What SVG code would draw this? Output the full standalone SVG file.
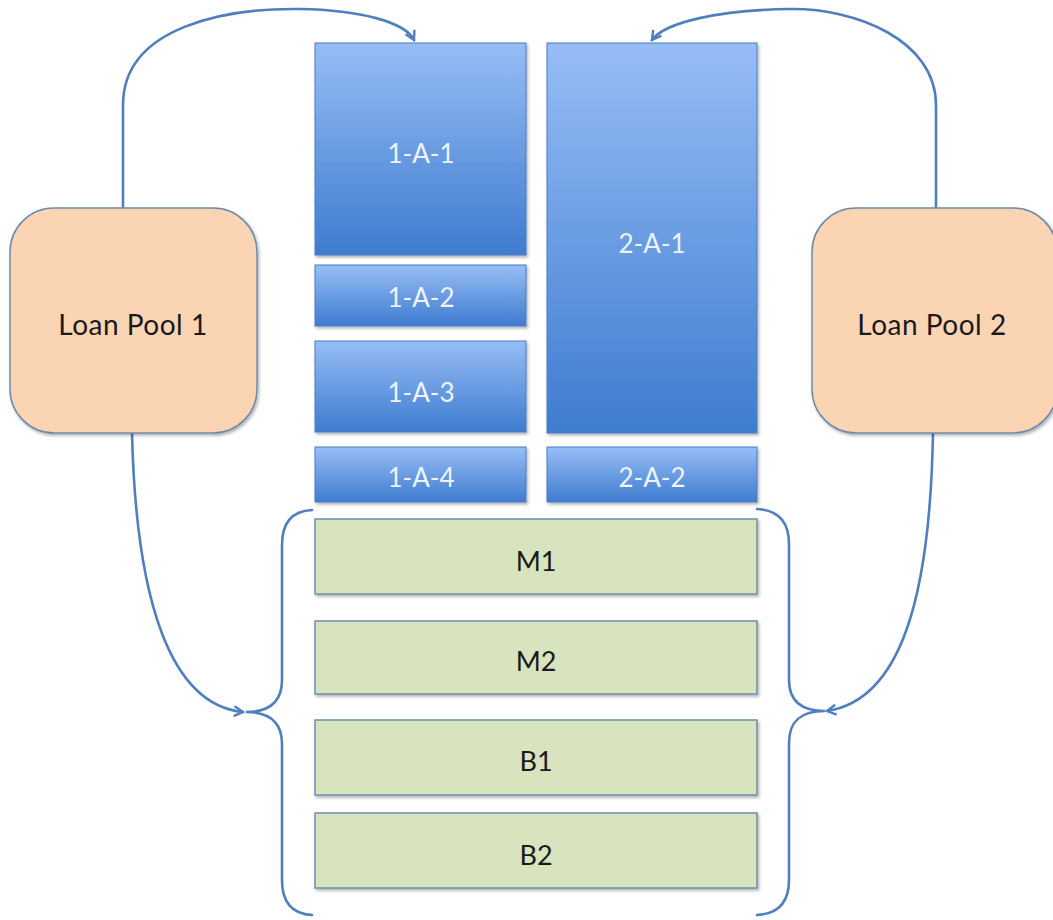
<svg xmlns="http://www.w3.org/2000/svg" width="1053" height="920" viewBox="0 0 1053 920">
  <defs>
    <linearGradient id="blueFill" x1="0" y1="0" x2="0" y2="1">
      <stop offset="0" stop-color="#97bdf6"/>
      <stop offset="1" stop-color="#3e7ccf"/>
    </linearGradient>
    <filter id="shadow" x="-10%" y="-10%" width="130%" height="130%">
      <feDropShadow dx="1.5" dy="2" stdDeviation="1.8" flood-color="#000" flood-opacity="0.3"/>
    </filter>
    <marker id="openArrow" viewBox="0 0 12 12" refX="10" refY="6" markerWidth="12" markerHeight="12" markerUnits="userSpaceOnUse" orient="auto">
      <path d="M1,1 L10,6 L1,11" fill="none" stroke="#4f7fbd" stroke-width="2.4" stroke-linejoin="miter"/>
    </marker>
    <style>
      .tranche { fill: url(#blueFill); stroke: #4a7cc0; stroke-width: 1; filter: url(#shadow); }
      .sub { fill: #d7e4bd; stroke: #6f8fae; stroke-width: 1.5; filter: url(#shadow); }
      .pool { fill: #fbd4b4; stroke: #6e8aaa; stroke-width: 1.5; filter: url(#shadow); }
      .wlabel { font-family: Lato, "Open Sans", sans-serif; font-size: 26px; fill: #eef4fc; text-anchor: middle; }
      .dlabel { font-family: Lato, "Open Sans", sans-serif; font-size: 27px; fill: #1a1a1a; text-anchor: middle; }
      .plabel { font-family: Lato, "Open Sans", sans-serif; font-size: 28px; fill: #1a1a1a; text-anchor: middle; letter-spacing: 0.5px; }
      .link { fill: none; stroke: #4f7fbd; stroke-width: 2.6; stroke-linecap: round; }
    </style>
  </defs>

  <rect width="1053" height="920" fill="#ffffff"/>

  <!-- flows from the loan pools and the braces around the subordinate tranches -->
  <g id="connectors">
    <path class="link" d="M123,208 L123,105 C123,25 230,8 300,9 C360,10 405,22 414,40" marker-end="url(#openArrow)"/>
    <path class="link" d="M936,208 L936,105 C936,40 855,8 790,9 C720,10 665,22 652,40" marker-end="url(#openArrow)"/>
    <path class="link" d="M132,433 C136,600 170,705 243,712" marker-end="url(#openArrow)"/>
    <path class="link" d="M933,433 C930,600 900,700 827,711" marker-end="url(#openArrow)"/>
    <!-- left brace -->
    <path class="link" d="M312,510 C292,511 282,522 282,545 L282,680 C282,703 268,712 246,712 C268,712 282,721 282,744 L282,880 C282,903 292,914 312,915"/>
    <!-- right brace -->
    <path class="link" d="M757,509 C777,510 789,521 789,544 L789,680 C789,702 802,711 825,711 C802,711 789,720 789,743 L789,880 C789,903 777,914 757,915"/>
  </g>

  <g id="loan-pool-1">
    <rect class="pool" x="10" y="208" width="247" height="225" rx="44" ry="44"/>
    <text class="plabel" x="133" y="335">Loan Pool 1</text>
  </g>
  <g id="loan-pool-2">
    <rect class="pool" x="812" y="208" width="245" height="225" rx="44" ry="44"/>
    <text class="plabel" x="932" y="335">Loan Pool 2</text>
  </g>

  <g id="tranche-1-A-1">
    <rect class="tranche" x="315" y="43" width="211" height="212"/>
    <text class="wlabel" x="421" y="163">1-A-1</text>
  </g>
  <g id="tranche-1-A-2">
    <rect class="tranche" x="315" y="265" width="211" height="61"/>
    <text class="wlabel" x="421" y="307">1-A-2</text>
  </g>
  <g id="tranche-1-A-3">
    <rect class="tranche" x="315" y="341" width="211" height="91"/>
    <text class="wlabel" x="421" y="402">1-A-3</text>
  </g>
  <g id="tranche-1-A-4">
    <rect class="tranche" x="315" y="447" width="211" height="55"/>
    <text class="wlabel" x="421" y="487">1-A-4</text>
  </g>
  <g id="tranche-2-A-1">
    <rect class="tranche" x="547" y="43" width="210" height="390"/>
    <text class="wlabel" x="652" y="253">2-A-1</text>
  </g>
  <g id="tranche-2-A-2">
    <rect class="tranche" x="547" y="447" width="210" height="55"/>
    <text class="wlabel" x="652" y="487">2-A-2</text>
  </g>

  <g id="tranche-M1">
    <rect class="sub" x="315" y="519" width="442" height="75"/>
    <text class="dlabel" x="536" y="571">M1</text>
  </g>
  <g id="tranche-M2">
    <rect class="sub" x="315" y="621" width="442" height="73"/>
    <text class="dlabel" x="536" y="671">M2</text>
  </g>
  <g id="tranche-B1">
    <rect class="sub" x="315" y="720" width="442" height="75"/>
    <text class="dlabel" x="536" y="771">B1</text>
  </g>
  <g id="tranche-B2">
    <rect class="sub" x="315" y="813" width="442" height="75"/>
    <text class="dlabel" x="536" y="865">B2</text>
  </g>
</svg>
